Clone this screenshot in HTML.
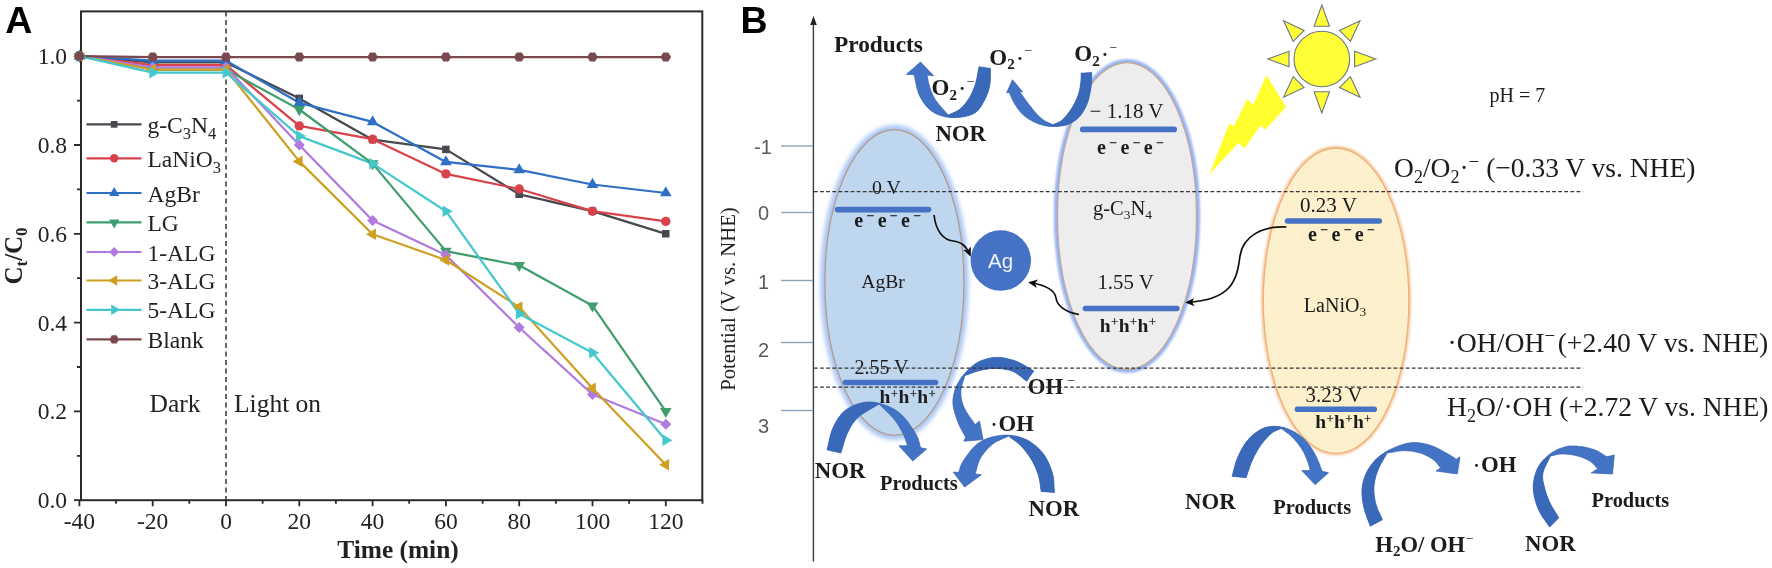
<!DOCTYPE html>
<html><head><meta charset="utf-8"><title>Figure</title>
<style>html,body{margin:0;padding:0;background:#fff}svg{display:block}</style></head>
<body><svg width="1772" height="568" viewBox="0 0 1772 568">
<defs><filter id="gl" x="-20%" y="-20%" width="140%" height="140%"><feGaussianBlur stdDeviation="1.3"/></filter><filter id="gl2" x="-20%" y="-20%" width="140%" height="140%"><feGaussianBlur stdDeviation="1.9"/></filter>
<filter id="soft" x="-2%" y="-2%" width="104%" height="104%"><feGaussianBlur stdDeviation="0.45"/></filter></defs>
<rect width="1772" height="568" fill="#fff"/>
<g filter="url(#soft)">
<g id="panelA">
<rect x="81.0" y="11.4" width="621.3" height="488.8" fill="none" stroke="#2a2a2a" stroke-width="2"/>
<path d="M79.4,500.2 v6 M152.7,500.2 v6 M226.0,500.2 v6 M299.3,500.2 v6 M372.6,500.2 v6 M445.9,500.2 v6 M519.2,500.2 v6 M592.5,500.2 v6 M665.8,500.2 v6 M116.0,500.2 v3.5 M189.3,500.2 v3.5 M262.6,500.2 v3.5 M335.9,500.2 v3.5 M409.2,500.2 v3.5 M482.6,500.2 v3.5 M555.9,500.2 v3.5 M629.1,500.2 v3.5 M702.5,500.2 v3.5 M81.0,500.2 h-7 M81.0,411.4 h-7 M81.0,322.6 h-7 M81.0,233.8 h-7 M81.0,145.0 h-7 M81.0,56.2 h-7 M81.0,455.8 h-4 M81.0,367.0 h-4 M81.0,278.2 h-4 M81.0,189.4 h-4 M81.0,100.6 h-4" stroke="#2a2a2a" stroke-width="1.8" fill="none"/>
<line x1="226.0" y1="11.4" x2="226.0" y2="500.2" stroke="#333" stroke-width="1.5" stroke-dasharray="5,3.5"/>
<g font-family="Liberation Serif, serif" font-size="23.5" fill="#222">
<text x="79.4" y="529" text-anchor="middle">-40</text>
<text x="152.7" y="529" text-anchor="middle">-20</text>
<text x="226.0" y="529" text-anchor="middle">0</text>
<text x="299.3" y="529" text-anchor="middle">20</text>
<text x="372.6" y="529" text-anchor="middle">40</text>
<text x="445.9" y="529" text-anchor="middle">60</text>
<text x="519.2" y="529" text-anchor="middle">80</text>
<text x="592.5" y="529" text-anchor="middle">100</text>
<text x="665.8" y="529" text-anchor="middle">120</text>
<text x="67" y="508.2" text-anchor="end">0.0</text>
<text x="67" y="419.4" text-anchor="end">0.2</text>
<text x="67" y="330.6" text-anchor="end">0.4</text>
<text x="67" y="241.8" text-anchor="end">0.6</text>
<text x="67" y="153.0" text-anchor="end">0.8</text>
<text x="67" y="64.2" text-anchor="end">1.0</text>
</g>
<polyline points="79.4,56.2 152.7,62.4 226.0,62.4 299.3,98.4 372.6,139.7 445.9,149.4 519.2,194.3 592.5,211.2 665.8,233.8" fill="none" stroke="#46494f" stroke-width="2.25" stroke-linejoin="round"/>
<polyline points="79.4,56.2 152.7,65.1 226.0,65.1 299.3,125.9 372.6,139.2 445.9,173.9 519.2,189.0 592.5,211.2 665.8,221.4" fill="none" stroke="#d9434b" stroke-width="2.25" stroke-linejoin="round"/>
<polyline points="79.4,56.2 152.7,60.6 226.0,60.6 299.3,102.8 372.6,121.9 445.9,161.9 519.2,169.9 592.5,184.5 665.8,193.0" fill="none" stroke="#2f6fc4" stroke-width="2.25" stroke-linejoin="round"/>
<polyline points="79.4,56.2 152.7,69.5 226.0,69.5 299.3,109.5 372.6,163.6 445.9,251.1 519.2,265.3 592.5,305.7 665.8,411.4" fill="none" stroke="#3f9e6e" stroke-width="2.25" stroke-linejoin="round"/>
<polyline points="79.4,56.2 152.7,67.3 226.0,67.3 299.3,145.0 372.6,220.5 445.9,255.1 519.2,327.5 592.5,394.5 665.8,424.3" fill="none" stroke="#b07adf" stroke-width="2.25" stroke-linejoin="round"/>
<polyline points="79.4,56.2 152.7,69.5 226.0,69.5 299.3,161.4 372.6,234.2 445.9,260.0 519.2,307.1 592.5,388.3 665.8,464.7" fill="none" stroke="#cf9f22" stroke-width="2.25" stroke-linejoin="round"/>
<polyline points="79.4,56.2 152.7,72.6 226.0,72.6 299.3,136.1 372.6,163.6 445.9,211.2 519.2,313.7 592.5,352.8 665.8,440.3" fill="none" stroke="#45c8cd" stroke-width="2.25" stroke-linejoin="round"/>
<polyline points="79.4,56.2 152.7,57.1 226.0,57.1 299.3,57.1 372.6,57.1 445.9,57.1 519.2,57.1 592.5,57.1 665.8,57.1" fill="none" stroke="#7a4a4e" stroke-width="2.25" stroke-linejoin="round"/>
<rect x="75.6" y="52.4" width="7.5" height="7.5" fill="#46494f"/>
<rect x="148.9" y="58.7" width="7.5" height="7.5" fill="#46494f"/>
<rect x="222.2" y="58.7" width="7.5" height="7.5" fill="#46494f"/>
<rect x="295.5" y="94.6" width="7.5" height="7.5" fill="#46494f"/>
<rect x="368.8" y="135.9" width="7.5" height="7.5" fill="#46494f"/>
<rect x="442.1" y="145.7" width="7.5" height="7.5" fill="#46494f"/>
<rect x="515.4" y="190.5" width="7.5" height="7.5" fill="#46494f"/>
<rect x="588.7" y="207.4" width="7.5" height="7.5" fill="#46494f"/>
<rect x="662.0" y="230.0" width="7.5" height="7.5" fill="#46494f"/>
<circle cx="79.4" cy="56.2" r="4.7" fill="#d9434b"/>
<circle cx="152.7" cy="65.1" r="4.7" fill="#d9434b"/>
<circle cx="226.0" cy="65.1" r="4.7" fill="#d9434b"/>
<circle cx="299.3" cy="125.9" r="4.7" fill="#d9434b"/>
<circle cx="372.6" cy="139.2" r="4.7" fill="#d9434b"/>
<circle cx="445.9" cy="173.9" r="4.7" fill="#d9434b"/>
<circle cx="519.2" cy="189.0" r="4.7" fill="#d9434b"/>
<circle cx="592.5" cy="211.2" r="4.7" fill="#d9434b"/>
<circle cx="665.8" cy="221.4" r="4.7" fill="#d9434b"/>
<polygon points="79.4,49.5 85.2,59.5 73.6,59.5" fill="#2f6fc4"/>
<polygon points="152.7,54.0 158.5,64.0 146.9,64.0" fill="#2f6fc4"/>
<polygon points="226.0,54.0 231.8,64.0 220.2,64.0" fill="#2f6fc4"/>
<polygon points="299.3,96.1 305.1,106.2 293.5,106.2" fill="#2f6fc4"/>
<polygon points="372.6,115.2 378.4,125.2 366.8,125.2" fill="#2f6fc4"/>
<polygon points="445.9,155.2 451.7,165.2 440.1,165.2" fill="#2f6fc4"/>
<polygon points="519.2,163.2 525.0,173.2 513.4,173.2" fill="#2f6fc4"/>
<polygon points="592.5,177.8 598.3,187.9 586.7,187.9" fill="#2f6fc4"/>
<polygon points="665.8,186.3 671.6,196.3 660.0,196.3" fill="#2f6fc4"/>
<polygon points="79.4,62.9 73.6,52.9 85.2,52.9" fill="#3f9e6e"/>
<polygon points="152.7,76.2 146.9,66.2 158.5,66.2" fill="#3f9e6e"/>
<polygon points="226.0,76.2 220.2,66.2 231.8,66.2" fill="#3f9e6e"/>
<polygon points="299.3,116.2 293.5,106.1 305.1,106.1" fill="#3f9e6e"/>
<polygon points="372.6,170.3 366.8,160.3 378.4,160.3" fill="#3f9e6e"/>
<polygon points="445.9,257.8 440.1,247.8 451.7,247.8" fill="#3f9e6e"/>
<polygon points="519.2,272.0 513.4,262.0 525.0,262.0" fill="#3f9e6e"/>
<polygon points="592.5,312.4 586.7,302.4 598.3,302.4" fill="#3f9e6e"/>
<polygon points="665.8,418.1 660.0,408.1 671.6,408.1" fill="#3f9e6e"/>
<polygon points="79.4,50.7 84.9,56.2 79.4,61.7 73.9,56.2" fill="#b07adf"/>
<polygon points="152.7,61.8 158.2,67.3 152.7,72.8 147.2,67.3" fill="#b07adf"/>
<polygon points="226.0,61.8 231.5,67.3 226.0,72.8 220.5,67.3" fill="#b07adf"/>
<polygon points="299.3,139.5 304.8,145.0 299.3,150.5 293.8,145.0" fill="#b07adf"/>
<polygon points="372.6,214.9 378.1,220.5 372.6,226.0 367.1,220.5" fill="#b07adf"/>
<polygon points="445.9,249.6 451.4,255.1 445.9,260.7 440.4,255.1" fill="#b07adf"/>
<polygon points="519.2,321.9 524.7,327.5 519.2,333.0 513.7,327.5" fill="#b07adf"/>
<polygon points="592.5,389.0 598.0,394.5 592.5,400.1 587.0,394.5" fill="#b07adf"/>
<polygon points="665.8,418.7 671.3,424.3 665.8,429.8 660.3,424.3" fill="#b07adf"/>
<polygon points="72.7,56.2 82.7,50.4 82.7,62.0" fill="#cf9f22"/>
<polygon points="146.0,69.5 156.0,63.7 156.0,75.3" fill="#cf9f22"/>
<polygon points="219.3,69.5 229.3,63.7 229.3,75.3" fill="#cf9f22"/>
<polygon points="292.6,161.4 302.6,155.6 302.6,167.2" fill="#cf9f22"/>
<polygon points="365.9,234.2 375.9,228.5 375.9,240.0" fill="#cf9f22"/>
<polygon points="439.2,260.0 449.2,254.2 449.2,265.8" fill="#cf9f22"/>
<polygon points="512.5,307.1 522.5,301.3 522.5,312.8" fill="#cf9f22"/>
<polygon points="585.8,388.3 595.8,382.5 595.8,394.1" fill="#cf9f22"/>
<polygon points="659.1,464.7 669.1,458.9 669.1,470.5" fill="#cf9f22"/>
<polygon points="86.1,56.2 76.1,62.0 76.1,50.4" fill="#45c8cd"/>
<polygon points="159.4,72.6 149.4,78.4 149.4,66.8" fill="#45c8cd"/>
<polygon points="232.7,72.6 222.7,78.4 222.7,66.8" fill="#45c8cd"/>
<polygon points="306.0,136.1 296.0,141.9 296.0,130.3" fill="#45c8cd"/>
<polygon points="379.3,163.6 369.3,169.4 369.3,157.9" fill="#45c8cd"/>
<polygon points="452.6,211.2 442.6,216.9 442.6,205.4" fill="#45c8cd"/>
<polygon points="525.9,313.7 515.9,319.5 515.9,307.9" fill="#45c8cd"/>
<polygon points="599.2,352.8 589.2,358.6 589.2,347.0" fill="#45c8cd"/>
<polygon points="672.5,440.3 662.5,446.0 662.5,434.5" fill="#45c8cd"/>
<polygon points="84.7,56.2 82.0,60.8 76.8,60.8 74.1,56.2 76.8,51.6 82.0,51.6" fill="#7a4a4e"/>
<polygon points="158.0,57.1 155.3,61.6 150.1,61.6 147.4,57.1 150.1,52.5 155.3,52.5" fill="#7a4a4e"/>
<polygon points="231.3,57.1 228.6,61.6 223.4,61.6 220.7,57.1 223.4,52.5 228.6,52.5" fill="#7a4a4e"/>
<polygon points="304.6,57.1 301.9,61.6 296.7,61.6 294.0,57.1 296.7,52.5 301.9,52.5" fill="#7a4a4e"/>
<polygon points="377.9,57.1 375.2,61.6 370.0,61.6 367.3,57.1 370.0,52.5 375.2,52.5" fill="#7a4a4e"/>
<polygon points="451.2,57.1 448.5,61.6 443.3,61.6 440.6,57.1 443.3,52.5 448.5,52.5" fill="#7a4a4e"/>
<polygon points="524.5,57.1 521.8,61.6 516.6,61.6 513.9,57.1 516.6,52.5 521.8,52.5" fill="#7a4a4e"/>
<polygon points="597.8,57.1 595.1,61.6 589.9,61.6 587.2,57.1 589.9,52.5 595.1,52.5" fill="#7a4a4e"/>
<polygon points="671.1,57.1 668.4,61.6 663.2,61.6 660.5,57.1 663.2,52.5 668.4,52.5" fill="#7a4a4e"/>
<g font-family="Liberation Serif, serif" font-size="23.5" fill="#222">
<line x1="86.5" y1="124.4" x2="141.5" y2="124.4" stroke="#46494f" stroke-width="2.2"/>
<rect x="110.8" y="121.0" width="6.7" height="6.7" fill="#46494f"/>
<text x="147.5" y="133.0">g-C<tspan dy="6" font-size="16.5">3</tspan><tspan dy="-6">N</tspan><tspan dy="6" font-size="16.5">4</tspan></text>
<line x1="86.5" y1="158.3" x2="141.5" y2="158.3" stroke="#d9434b" stroke-width="2.2"/>
<circle cx="114.2" cy="158.3" r="4.2" fill="#d9434b"/>
<text x="147.5" y="166.9">LaNiO<tspan dy="6" font-size="16.5">3</tspan></text>
<line x1="86.5" y1="193" x2="141.5" y2="193" stroke="#2f6fc4" stroke-width="2.2"/>
<polygon points="114.2,187.0 119.4,196.0 109.0,196.0" fill="#2f6fc4"/>
<text x="147.5" y="201.6">AgBr</text>
<line x1="86.5" y1="222.4" x2="141.5" y2="222.4" stroke="#3f9e6e" stroke-width="2.2"/>
<polygon points="114.2,228.4 109.0,219.4 119.4,219.4" fill="#3f9e6e"/>
<text x="147.5" y="231.0">LG</text>
<line x1="86.5" y1="252" x2="141.5" y2="252" stroke="#b07adf" stroke-width="2.2"/>
<polygon points="114.2,247.0 119.2,252.0 114.2,257.0 109.2,252.0" fill="#b07adf"/>
<text x="147.5" y="260.6">1-ALG</text>
<line x1="86.5" y1="280.5" x2="141.5" y2="280.5" stroke="#cf9f22" stroke-width="2.2"/>
<polygon points="108.2,280.5 117.2,275.3 117.2,285.7" fill="#cf9f22"/>
<text x="147.5" y="289.1">3-ALG</text>
<line x1="86.5" y1="309.8" x2="141.5" y2="309.8" stroke="#45c8cd" stroke-width="2.2"/>
<polygon points="120.2,309.8 111.2,315.0 111.2,304.6" fill="#45c8cd"/>
<text x="147.5" y="318.4">5-ALG</text>
<line x1="86.5" y1="339.4" x2="141.5" y2="339.4" stroke="#7a4a4e" stroke-width="2.2"/>
<polygon points="118.9,339.4 116.6,343.5 111.8,343.5 109.5,339.4 111.8,335.3 116.6,335.3" fill="#7a4a4e"/>
<text x="147.5" y="348.0">Blank</text>
<text x="149.5" y="411.5" font-size="25.5">Dark</text>
<text x="234" y="411.5" font-size="25.5">Light on</text>
</g>
<text x="398" y="558" text-anchor="middle" font-family="Liberation Serif, serif" font-weight="bold" font-size="25.4" fill="#222">Time (min)</text>
<text transform="translate(22,256) rotate(-90)" text-anchor="middle" font-family="Liberation Serif, serif" font-weight="bold" font-size="25" fill="#222">C<tspan dy="5" font-size="17">t</tspan><tspan dy="-5">/C</tspan><tspan dy="5" font-size="17">0</tspan></text>
<text x="5.3" y="32.7" font-family="Liberation Sans, sans-serif" font-weight="bold" font-size="37.5" fill="#000">A</text>
</g>
<g id="panelB">
<text x="740.6" y="32.7" font-family="Liberation Sans, sans-serif" font-weight="bold" font-size="37.5" fill="#000">B</text>
<ellipse cx="894.4" cy="282.5" rx="71.8" ry="155.10000000000002" fill="#a9c6f4" stroke="#a9c6f4" stroke-width="4.6" filter="url(#gl2)"/>
<ellipse cx="894.4" cy="282.5" rx="69.5" ry="152.8" fill="#bfd7ee" stroke="#b59a8c" stroke-width="1.3"/>
<ellipse cx="1127" cy="216" rx="71.3" ry="155.3" fill="#94b3f4" stroke="#94b3f4" stroke-width="3.6" filter="url(#gl)"/>
<ellipse cx="1127" cy="216" rx="69.5" ry="153.5" fill="#ededed" stroke="#c2a99a" stroke-width="1.3"/>
<ellipse cx="1336.1" cy="300.7" rx="73.89999999999999" ry="153.79999999999998" fill="#f6c89c" stroke="#f6c89c" stroke-width="2.2" filter="url(#gl)"/>
<ellipse cx="1336.1" cy="300.7" rx="72.8" ry="152.7" fill="#fdf0cc" stroke="#efb07a" stroke-width="1.3"/>
<line x1="813.4" y1="22" x2="813.4" y2="561.6" stroke="#3a3a3a" stroke-width="1.4"/>
<polygon points="813.5,16 810.2,25 816.8,25" fill="#222"/>
<line x1="781" y1="146" x2="813" y2="146" stroke="#8aa7bb" stroke-width="1.4"/>
<line x1="781" y1="212.5" x2="813" y2="212.5" stroke="#8aa7bb" stroke-width="1.4"/>
<line x1="781" y1="280.5" x2="813" y2="280.5" stroke="#8aa7bb" stroke-width="1.4"/>
<line x1="781" y1="342.5" x2="813" y2="342.5" stroke="#8aa7bb" stroke-width="1.4"/>
<line x1="781" y1="410.5" x2="813" y2="410.5" stroke="#8aa7bb" stroke-width="1.4"/>
<g font-family="Liberation Sans, sans-serif" font-size="20" fill="#5a5a5a" text-anchor="middle">
<text x="763" y="153.6">-1</text>
<text x="763.5" y="220.4">0</text>
<text x="763.5" y="288.6">1</text>
<text x="763.5" y="356.8">2</text>
<text x="763.5" y="433.1">3</text>
</g>
<text transform="translate(735,299) rotate(-90)" text-anchor="middle" font-family="Liberation Serif, serif" font-size="20.7" fill="#222">Potential (V vs. NHE)</text>
<line x1="837.5" y1="209.6" x2="928.5" y2="209.6" stroke="#4472c4" stroke-width="5.6" stroke-linecap="round"/>
<line x1="845.5" y1="382.5" x2="935.5" y2="382.5" stroke="#4472c4" stroke-width="5.6" stroke-linecap="round"/>
<line x1="1082.7" y1="129.4" x2="1174.2" y2="129.4" stroke="#4472c4" stroke-width="5.6" stroke-linecap="round"/>
<line x1="1085.5" y1="308.5" x2="1176.9" y2="308.5" stroke="#4472c4" stroke-width="5.6" stroke-linecap="round"/>
<line x1="1287.5" y1="221" x2="1379.3" y2="221" stroke="#4472c4" stroke-width="5.6" stroke-linecap="round"/>
<line x1="1297.5" y1="409.2" x2="1374.2" y2="409.2" stroke="#4472c4" stroke-width="5.6" stroke-linecap="round"/>
<text x="886.5" y="193.5" text-anchor="middle" font-family="Liberation Serif, serif" font-size="19.8" fill="#1a1a1a">0 V</text>
<text x="854.2" y="227.3" text-anchor="start" font-family="Liberation Serif, serif" font-size="20" font-weight="bold" fill="#1a1a1a">e<tspan dx="3.3" dy="-7.2" font-size="13" font-weight="normal" stroke="#1a1a1a" stroke-width="0.45">−</tspan><tspan dx="3.9" dy="7.2">e</tspan><tspan dx="3.3" dy="-7.2" font-size="13" font-weight="normal" stroke="#1a1a1a" stroke-width="0.45">−</tspan><tspan dx="3.9" dy="7.2">e</tspan><tspan dx="3.3" dy="-7.2" font-size="13" font-weight="normal" stroke="#1a1a1a" stroke-width="0.45">−</tspan></text>
<text x="883" y="287.5" text-anchor="middle" font-family="Liberation Serif, serif" font-size="19.5" fill="#1a1a1a">AgBr</text>
<text x="881.5" y="374" text-anchor="middle" font-family="Liberation Serif, serif" font-size="20" fill="#1a1a1a">2.55 V</text>
<text x="879.6" y="403.4" text-anchor="start" font-family="Liberation Serif, serif" font-size="19.5" font-weight="bold" fill="#1a1a1a">h<tspan dx="0.6" dy="-5.8" font-size="12" font-weight="normal" stroke="#1a1a1a" stroke-width="0.3">+</tspan><tspan dx="0.6" dy="5.8">h</tspan><tspan dx="0.6" dy="-5.8" font-size="12" font-weight="normal" stroke="#1a1a1a" stroke-width="0.3">+</tspan><tspan dx="0.6" dy="5.8">h</tspan><tspan dx="0.6" dy="-5.8" font-size="12" font-weight="normal" stroke="#1a1a1a" stroke-width="0.3">+</tspan></text>
<text x="1126.5" y="117.5" text-anchor="middle" font-family="Liberation Serif, serif" font-size="21" fill="#1a1a1a">− 1.18 V</text>
<text x="1097" y="154" text-anchor="start" font-family="Liberation Serif, serif" font-size="20" font-weight="bold" fill="#1a1a1a">e<tspan dx="3.3" dy="-7.2" font-size="13" font-weight="normal" stroke="#1a1a1a" stroke-width="0.45">−</tspan><tspan dx="3.9" dy="7.2">e</tspan><tspan dx="3.3" dy="-7.2" font-size="13" font-weight="normal" stroke="#1a1a1a" stroke-width="0.45">−</tspan><tspan dx="3.9" dy="7.2">e</tspan><tspan dx="3.3" dy="-7.2" font-size="13" font-weight="normal" stroke="#1a1a1a" stroke-width="0.45">−</tspan></text>
<text x="1122.5" y="214.5" text-anchor="middle" font-family="Liberation Serif, serif" font-size="20.5" fill="#1a1a1a">g-C<tspan dy="4.5" font-size="13.5">3</tspan><tspan dy="-4.5">N</tspan><tspan dy="4.5" font-size="13.5">4</tspan></text>
<text x="1125.6" y="288.7" text-anchor="middle" font-family="Liberation Serif, serif" font-size="20.8" fill="#1a1a1a">1.55 V</text>
<text x="1099.8" y="332.2" text-anchor="start" font-family="Liberation Serif, serif" font-size="19.5" font-weight="bold" fill="#1a1a1a">h<tspan dx="0.6" dy="-5.8" font-size="12" font-weight="normal" stroke="#1a1a1a" stroke-width="0.3">+</tspan><tspan dx="0.6" dy="5.8">h</tspan><tspan dx="0.6" dy="-5.8" font-size="12" font-weight="normal" stroke="#1a1a1a" stroke-width="0.3">+</tspan><tspan dx="0.6" dy="5.8">h</tspan><tspan dx="0.6" dy="-5.8" font-size="12" font-weight="normal" stroke="#1a1a1a" stroke-width="0.3">+</tspan></text>
<text x="1328.5" y="212" text-anchor="middle" font-family="Liberation Serif, serif" font-size="21" fill="#1a1a1a">0.23 V</text>
<text x="1308" y="240.8" text-anchor="start" font-family="Liberation Serif, serif" font-size="20" font-weight="bold" fill="#1a1a1a">e<tspan dx="3.3" dy="-7.2" font-size="13" font-weight="normal" stroke="#1a1a1a" stroke-width="0.45">−</tspan><tspan dx="3.9" dy="7.2">e</tspan><tspan dx="3.3" dy="-7.2" font-size="13" font-weight="normal" stroke="#1a1a1a" stroke-width="0.45">−</tspan><tspan dx="3.9" dy="7.2">e</tspan><tspan dx="3.3" dy="-7.2" font-size="13" font-weight="normal" stroke="#1a1a1a" stroke-width="0.45">−</tspan></text>
<text x="1335" y="311.5" text-anchor="middle" font-family="Liberation Serif, serif" font-size="20" fill="#1a1a1a">LaNiO<tspan dy="4.5" font-size="13.5">3</tspan></text>
<text x="1334" y="401.5" text-anchor="middle" font-family="Liberation Serif, serif" font-size="21" fill="#1a1a1a">3.23 V</text>
<text x="1315.2" y="428.3" text-anchor="start" font-family="Liberation Serif, serif" font-size="19.5" font-weight="bold" fill="#1a1a1a">h<tspan dx="0.6" dy="-5.8" font-size="12" font-weight="normal" stroke="#1a1a1a" stroke-width="0.3">+</tspan><tspan dx="0.6" dy="5.8">h</tspan><tspan dx="0.6" dy="-5.8" font-size="12" font-weight="normal" stroke="#1a1a1a" stroke-width="0.3">+</tspan><tspan dx="0.6" dy="5.8">h</tspan><tspan dx="0.6" dy="-5.8" font-size="12" font-weight="normal" stroke="#1a1a1a" stroke-width="0.3">+</tspan></text>
<circle cx="1000.8" cy="260.5" r="30.2" fill="#4472c4"/>
<text x="1000.5" y="268" text-anchor="middle" font-family="Liberation Sans, sans-serif" font-size="20.5" fill="#eef2fb">Ag</text>
<defs><marker id="ah" viewBox="0 0 10 10" refX="8" refY="5" markerWidth="5.5" markerHeight="5.5" orient="auto"><path d="M0,0.5 L10,5 L0,9.5 L2.5,5 z" fill="#111"/></marker></defs>
<g fill="none" stroke="#111" stroke-width="1.7" marker-end="url(#ah)">
<path d="M934,215 C936,232 944,240 953,241 C962,242 966,246 970,255"/>
<path d="M1079,314.5 C1064,312 1057,305 1056,298 C1055,290 1045,285 1030,282.5"/>
<path d="M1286.5,227 C1262,226 1243,236 1240,256 C1237,280 1232,300 1187,302.5"/>
</g>
<g fill="#ffff38" stroke="#6f7682" stroke-width="1.1">
<circle cx="1321.8" cy="59" r="27.8"/>
<polygon points="1321.8,5.0 1329.5,26.2 1314.1,26.2"/>
<polygon points="1360.0,20.8 1350.4,41.3 1339.5,30.4"/>
<polygon points="1375.8,59.0 1354.6,66.7 1354.6,51.3"/>
<polygon points="1360.0,97.2 1339.5,87.6 1350.4,76.7"/>
<polygon points="1321.8,113.0 1314.1,91.8 1329.5,91.8"/>
<polygon points="1283.6,97.2 1293.2,76.7 1304.1,87.6"/>
<polygon points="1267.8,59.0 1289.0,51.3 1289.0,66.7"/>
<polygon points="1283.6,20.8 1304.1,30.4 1293.2,41.3"/>
</g>
<polygon fill="#ffff2e" points="1266.4,75.3 1286,106.9 1265.3,129.8 1260.3,125.5 1244.5,148.4 1238.4,142.9 1209.2,174.6 1229.3,123.3 1233.6,126.6 1247.2,99.3 1253.3,104.7"/>
<path d="M990.5,68.5 L990.5,70.2 L990.4,71.8 L990.4,73.5 L990.4,75.2 L990.4,76.8 L990.4,78.5 L990.3,80.1 L990.2,81.8 L990.1,83.4 L989.8,85.0 L989.5,86.6 L989.1,88.2 L988.7,89.7 L988.3,91.3 L987.8,92.8 L987.2,94.3 L986.6,95.8 L986.0,97.3 L985.3,98.8 L984.5,100.2 L983.7,101.6 L982.9,103.1 L982.1,104.6 L981.2,106.1 L980.2,107.5 L979.2,108.9 L978.1,110.2 L976.9,111.4 L975.5,112.5 L974.0,113.4 L972.3,114.2 L970.5,115.0 L968.4,115.6 L966.3,116.2 L964.1,116.7 L961.8,117.1 L959.6,117.3 L957.3,117.5 L955.1,117.6 L953.0,117.6 L950.9,117.5 L948.8,117.3 L946.7,117.0 L944.6,116.6 L942.5,116.1 L940.5,115.5 L938.5,114.8 L936.5,114.0 L934.7,113.1 L933.0,112.1 L931.4,111.0 L929.8,109.7 L928.3,108.3 L926.9,106.8 L925.5,105.2 L924.2,103.5 L923.0,101.7 L921.9,99.9 L920.8,98.1 L919.8,96.2 L918.9,94.3 L918.2,92.2 L917.5,90.1 L916.9,87.9 L916.4,85.7 L915.9,83.4 L915.4,81.1 L915.0,78.9 L914.5,76.6 L913.9,74.4 L906.3,74.4 L920.5,61.9 L933.7,75.8 L927.1,75.1 L927.3,76.3 L927.6,77.5 L927.8,78.6 L928.0,79.8 L928.2,81.0 L928.4,82.1 L928.7,83.3 L929.0,84.5 L929.3,85.8 L929.7,87.0 L930.1,88.3 L930.6,89.5 L931.0,90.8 L931.5,92.1 L932.1,93.4 L932.7,94.7 L933.3,96.1 L934.0,97.4 L934.8,98.8 L935.7,100.2 L936.7,101.6 L937.8,103.1 L939.0,104.5 L940.2,106.0 L941.5,107.5 L942.9,109.1 L944.2,110.6 L945.6,112.1 L946.9,113.6 L948.2,115.1 L948.2,115.1 L949.3,114.6 L950.5,114.0 L951.6,113.5 L952.8,113.1 L953.9,112.6 L955.1,112.0 L956.2,111.5 L957.3,110.8 L958.4,110.2 L959.4,109.4 L960.4,108.6 L961.4,107.7 L962.4,106.7 L963.4,105.7 L964.3,104.7 L965.3,103.6 L966.2,102.5 L967.0,101.3 L967.9,100.1 L968.7,98.9 L969.5,97.6 L970.2,96.3 L971.0,94.9 L971.7,93.5 L972.3,92.0 L973.0,90.5 L973.6,89.0 L974.2,87.5 L974.8,85.9 L975.3,84.3 L975.8,82.7 L976.2,81.0 L976.6,79.3 L977.0,77.5 L977.3,75.7 L977.7,73.9 L978.0,72.1 L978.3,70.3 L978.6,68.6 L979.0,66.8Z" fill="#4373c5" stroke="#3862ac" stroke-width="0.7" stroke-linejoin="round"/>
<path d="M990.5,68.5 L990.5,70.2 L990.4,71.8 L990.4,73.5 L990.4,75.2 L990.4,76.8 L990.4,78.5 L990.3,80.1 L990.2,81.8 L990.1,83.4 L989.8,85.0 L989.5,86.6 L989.1,88.2 L988.7,89.7 L988.3,91.3 L987.8,92.8 L987.2,94.3 L986.6,95.8 L986.0,97.3 L985.3,98.8 L984.5,100.2 L983.7,101.6 L982.9,103.1 L982.1,104.6 L981.2,106.1 L980.2,107.5 L979.2,108.9 L978.1,110.2 L976.9,111.4 L975.5,112.5 L974.0,113.4 L972.3,114.2 L970.5,115.0 L968.4,115.6 L966.3,116.2 L964.1,116.7 L961.8,117.1 L959.6,117.3 L957.3,117.5 L955.1,117.6 L953.0,117.6 L950.9,117.5 L948.8,117.3 L946.7,117.0 L944.6,116.6 L942.5,116.1 L948.2,115.1 L949.3,114.6 L950.5,114.0 L951.6,113.5 L952.8,113.1 L953.9,112.6 L955.1,112.0 L956.2,111.5 L957.3,110.8 L958.4,110.2 L959.4,109.4 L960.4,108.6 L961.4,107.7 L962.4,106.7 L963.4,105.7 L964.3,104.7 L965.3,103.6 L966.2,102.5 L967.0,101.3 L967.9,100.1 L968.7,98.9 L969.5,97.6 L970.2,96.3 L971.0,94.9 L971.7,93.5 L972.3,92.0 L973.0,90.5 L973.6,89.0 L974.2,87.5 L974.8,85.9 L975.3,84.3 L975.8,82.7 L976.2,81.0 L976.6,79.3 L977.0,77.5 L977.3,75.7 L977.7,73.9 L978.0,72.1 L978.3,70.3 L978.6,68.6 L979.0,66.8Z" fill="#3a69b9"/>
<path d="M1091.8,72.5 L1091.7,73.9 L1091.7,75.2 L1091.7,76.6 L1091.7,77.9 L1091.6,79.2 L1091.6,80.6 L1091.5,82.0 L1091.4,83.4 L1091.3,84.9 L1091.1,86.4 L1090.9,88.0 L1090.6,89.7 L1090.3,91.4 L1090.0,93.2 L1089.6,95.0 L1089.2,96.8 L1088.8,98.6 L1088.3,100.4 L1087.8,102.0 L1087.2,103.6 L1086.6,105.1 L1085.9,106.6 L1085.2,108.0 L1084.5,109.5 L1083.7,110.8 L1082.8,112.1 L1082.0,113.4 L1081.1,114.6 L1080.2,115.7 L1079.3,116.8 L1078.4,117.8 L1077.4,118.7 L1076.4,119.6 L1075.3,120.4 L1074.2,121.1 L1073.2,121.8 L1072.1,122.5 L1070.9,123.1 L1069.8,123.6 L1068.7,124.1 L1067.6,124.5 L1066.4,124.9 L1065.2,125.3 L1064.0,125.5 L1062.8,125.8 L1061.6,125.9 L1060.4,126.1 L1059.2,126.2 L1058.0,126.3 L1056.8,126.4 L1055.6,126.5 L1054.4,126.5 L1053.2,126.5 L1052.0,126.5 L1050.8,126.5 L1049.7,126.4 L1048.5,126.3 L1047.3,126.1 L1046.1,125.9 L1044.9,125.7 L1043.7,125.4 L1042.5,125.1 L1041.3,124.8 L1040.1,124.4 L1038.9,124.0 L1037.7,123.5 L1036.5,123.0 L1035.3,122.5 L1034.1,122.0 L1033.0,121.4 L1031.9,120.8 L1030.8,120.2 L1029.7,119.6 L1028.6,118.9 L1027.5,118.2 L1026.5,117.5 L1025.4,116.7 L1024.4,115.9 L1023.4,115.1 L1022.5,114.2 L1021.6,113.3 L1020.7,112.3 L1019.8,111.3 L1019.0,110.2 L1018.2,109.2 L1017.4,108.0 L1016.6,106.9 L1015.9,105.8 L1015.2,104.7 L1014.5,103.6 L1013.9,102.5 L1013.3,101.4 L1012.7,100.3 L1012.2,99.2 L1011.7,98.0 L1011.2,96.9 L1010.7,95.8 L1010.2,94.6 L1009.7,93.5 L1009.2,92.4 L1006.6,92.8 L1012.5,79.8 L1022.5,91.7 L1019.8,91.7 L1020.4,92.6 L1021.1,93.5 L1021.7,94.4 L1022.3,95.3 L1022.9,96.2 L1023.6,97.1 L1024.2,98.0 L1024.9,99.0 L1025.6,100.0 L1026.4,101.0 L1027.2,102.1 L1028.1,103.3 L1029.0,104.5 L1030.0,105.8 L1031.0,107.0 L1032.0,108.3 L1032.9,109.5 L1033.9,110.7 L1034.8,111.8 L1035.7,112.8 L1036.5,113.7 L1037.3,114.6 L1038.1,115.4 L1038.9,116.2 L1039.7,116.9 L1040.4,117.6 L1041.2,118.3 L1042.0,118.9 L1042.8,119.5 L1043.6,120.1 L1044.5,120.7 L1045.4,121.2 L1046.3,121.7 L1047.2,122.1 L1048.1,122.6 L1049.1,123.0 L1050.0,123.4 L1050.9,123.8 L1051.9,124.3 L1052.8,124.7 L1052.8,124.7 L1053.7,124.3 L1054.7,123.9 L1055.6,123.5 L1056.5,123.2 L1057.5,122.8 L1058.4,122.4 L1059.3,122.0 L1060.2,121.4 L1061.2,120.8 L1062.1,120.1 L1063.0,119.3 L1064.0,118.3 L1064.9,117.3 L1065.9,116.2 L1066.9,115.0 L1067.8,113.8 L1068.7,112.6 L1069.6,111.4 L1070.5,110.1 L1071.3,108.9 L1072.1,107.7 L1072.8,106.4 L1073.6,105.0 L1074.3,103.7 L1075.0,102.3 L1075.7,101.0 L1076.3,99.6 L1076.9,98.3 L1077.4,97.0 L1077.9,95.7 L1078.3,94.5 L1078.7,93.2 L1079.1,92.0 L1079.4,90.8 L1079.6,89.6 L1079.9,88.4 L1080.1,87.2 L1080.3,86.1 L1080.4,84.9 L1080.6,83.8 L1080.7,82.7 L1080.9,81.6 L1080.9,80.5 L1081.0,79.5 L1081.0,78.4 L1081.1,77.4 L1081.1,76.3 L1081.1,75.3 L1081.1,74.3 L1081.2,73.2Z" fill="#4373c5" stroke="#3862ac" stroke-width="0.7" stroke-linejoin="round"/>
<path d="M1091.8,72.5 L1091.7,73.9 L1091.7,75.2 L1091.7,76.6 L1091.7,77.9 L1091.6,79.2 L1091.6,80.6 L1091.5,82.0 L1091.4,83.4 L1091.3,84.9 L1091.1,86.4 L1090.9,88.0 L1090.6,89.7 L1090.3,91.4 L1090.0,93.2 L1089.6,95.0 L1089.2,96.8 L1088.8,98.6 L1088.3,100.4 L1087.8,102.0 L1087.2,103.6 L1086.6,105.1 L1085.9,106.6 L1085.2,108.0 L1084.5,109.5 L1083.7,110.8 L1082.8,112.1 L1082.0,113.4 L1081.1,114.6 L1080.2,115.7 L1079.3,116.8 L1078.4,117.8 L1077.4,118.7 L1076.4,119.6 L1075.3,120.4 L1074.2,121.1 L1073.2,121.8 L1072.1,122.5 L1070.9,123.1 L1069.8,123.6 L1068.7,124.1 L1067.6,124.5 L1066.4,124.9 L1065.2,125.3 L1064.0,125.5 L1062.8,125.8 L1061.6,125.9 L1060.4,126.1 L1059.2,126.2 L1058.0,126.3 L1056.8,126.4 L1055.6,126.5 L1054.4,126.5 L1053.2,126.5 L1052.0,126.5 L1050.8,126.5 L1049.7,126.4 L1052.8,124.7 L1053.7,124.3 L1054.7,123.9 L1055.6,123.5 L1056.5,123.2 L1057.5,122.8 L1058.4,122.4 L1059.3,122.0 L1060.2,121.4 L1061.2,120.8 L1062.1,120.1 L1063.0,119.3 L1064.0,118.3 L1064.9,117.3 L1065.9,116.2 L1066.9,115.0 L1067.8,113.8 L1068.7,112.6 L1069.6,111.4 L1070.5,110.1 L1071.3,108.9 L1072.1,107.7 L1072.8,106.4 L1073.6,105.0 L1074.3,103.7 L1075.0,102.3 L1075.7,101.0 L1076.3,99.6 L1076.9,98.3 L1077.4,97.0 L1077.9,95.7 L1078.3,94.5 L1078.7,93.2 L1079.1,92.0 L1079.4,90.8 L1079.6,89.6 L1079.9,88.4 L1080.1,87.2 L1080.3,86.1 L1080.4,84.9 L1080.6,83.8 L1080.7,82.7 L1080.9,81.6 L1080.9,80.5 L1081.0,79.5 L1081.0,78.4 L1081.1,77.4 L1081.1,76.3 L1081.1,75.3 L1081.1,74.3 L1081.2,73.2Z" fill="#3a69b9"/>
<path d="M827.0,449.8 L827.6,447.6 L828.1,445.4 L828.6,443.1 L829.1,440.9 L829.6,438.6 L830.1,436.4 L830.7,434.2 L831.3,432.1 L832.1,430.0 L832.9,428.0 L833.8,426.1 L834.8,424.1 L835.8,422.2 L836.8,420.4 L838.0,418.6 L839.2,416.8 L840.5,415.2 L841.8,413.6 L843.3,412.1 L844.8,410.8 L846.5,409.5 L848.3,408.4 L850.2,407.3 L852.2,406.2 L854.2,405.3 L856.3,404.5 L858.4,403.8 L860.5,403.2 L862.6,402.7 L864.6,402.3 L866.6,402.1 L868.6,402.0 L870.6,402.0 L872.6,402.2 L874.7,402.4 L876.7,402.8 L878.7,403.2 L880.6,403.7 L882.5,404.3 L884.4,404.9 L886.2,405.5 L888.0,406.3 L889.8,407.0 L891.6,407.9 L893.3,408.8 L895.0,409.8 L896.7,410.9 L898.4,412.1 L900.0,413.4 L901.6,414.8 L903.2,416.4 L904.8,418.2 L906.5,420.2 L908.1,422.3 L909.6,424.5 L911.1,426.7 L912.6,428.8 L913.9,430.9 L915.1,432.8 L916.1,434.6 L917.0,436.2 L917.7,437.7 L918.2,439.0 L918.7,440.4 L919.0,441.6 L919.3,442.8 L919.6,444.0 L919.9,445.3 L920.3,446.5 L920.7,447.8 L926.7,448.9 L912.8,461.0 L898.9,445.8 L907.5,445.8 L907.1,444.6 L906.7,443.3 L906.3,442.1 L905.9,440.9 L905.5,439.7 L905.1,438.4 L904.6,437.2 L904.1,435.9 L903.5,434.6 L902.9,433.3 L902.2,431.9 L901.4,430.5 L900.6,429.1 L899.8,427.7 L898.9,426.2 L898.0,424.7 L897.0,423.2 L896.0,421.8 L894.9,420.3 L893.7,418.8 L892.5,417.3 L891.1,415.9 L889.7,414.4 L888.2,412.9 L886.7,411.4 L885.2,409.9 L883.7,408.4 L882.1,407.0 L880.6,405.5 L879.1,404.0 L879.1,404.0 L876.9,405.3 L874.7,406.6 L872.4,407.9 L870.2,409.2 L867.9,410.5 L865.7,411.9 L863.6,413.2 L861.5,414.6 L859.7,416.0 L858.0,417.4 L856.5,418.9 L855.1,420.4 L853.9,421.9 L852.8,423.4 L851.8,425.0 L850.8,426.5 L850.0,428.2 L849.1,429.8 L848.3,431.5 L847.4,433.3 L846.6,435.1 L845.8,437.0 L845.1,439.0 L844.5,440.9 L843.8,443.0 L843.2,445.0 L842.7,447.0 L842.1,449.1 L841.4,451.1 L840.8,453.1Z" fill="#4373c5" stroke="#3862ac" stroke-width="0.7" stroke-linejoin="round"/>
<path d="M827.0,449.8 L827.6,447.6 L828.1,445.4 L828.6,443.1 L829.1,440.9 L829.6,438.6 L830.1,436.4 L830.7,434.2 L831.3,432.1 L832.1,430.0 L832.9,428.0 L833.8,426.1 L834.8,424.1 L835.8,422.2 L836.8,420.4 L838.0,418.6 L839.2,416.8 L840.5,415.2 L841.8,413.6 L843.3,412.1 L844.8,410.8 L846.5,409.5 L848.3,408.4 L850.2,407.3 L852.2,406.2 L854.2,405.3 L856.3,404.5 L858.4,403.8 L860.5,403.2 L862.6,402.7 L864.6,402.3 L866.6,402.1 L868.6,402.0 L870.6,402.0 L872.6,402.2 L874.7,402.4 L876.7,402.8 L878.7,403.2 L880.6,403.7 L882.5,404.3 L884.4,404.9 L879.1,404.0 L876.9,405.3 L874.7,406.6 L872.4,407.9 L870.2,409.2 L867.9,410.5 L865.7,411.9 L863.6,413.2 L861.5,414.6 L859.7,416.0 L858.0,417.4 L856.5,418.9 L855.1,420.4 L853.9,421.9 L852.8,423.4 L851.8,425.0 L850.8,426.5 L850.0,428.2 L849.1,429.8 L848.3,431.5 L847.4,433.3 L846.6,435.1 L845.8,437.0 L845.1,439.0 L844.5,440.9 L843.8,443.0 L843.2,445.0 L842.7,447.0 L842.1,449.1 L841.4,451.1 L840.8,453.1Z" fill="#3a69b9"/>
<path d="M1033.8,370.9 L1032.1,369.9 L1030.3,368.9 L1028.6,367.8 L1026.9,366.8 L1025.1,365.7 L1023.4,364.7 L1021.7,363.8 L1019.9,362.9 L1018.1,362.0 L1016.3,361.3 L1014.5,360.6 L1012.6,360.0 L1010.7,359.5 L1008.7,359.0 L1006.8,358.5 L1004.9,358.1 L1002.9,357.8 L1001.0,357.6 L999.1,357.4 L997.3,357.4 L995.5,357.4 L993.6,357.6 L991.8,357.8 L990.0,358.1 L988.2,358.5 L986.4,359.0 L984.7,359.5 L983.1,360.0 L981.4,360.6 L979.9,361.3 L978.4,362.0 L977.0,362.8 L975.7,363.6 L974.4,364.5 L973.1,365.5 L971.9,366.5 L970.7,367.5 L969.5,368.6 L968.4,369.7 L967.2,370.9 L966.0,372.1 L964.9,373.4 L963.7,374.7 L962.6,376.1 L961.5,377.5 L960.5,379.0 L959.5,380.5 L958.5,382.0 L957.7,383.5 L956.9,385.1 L956.2,386.7 L955.6,388.3 L955.0,390.0 L954.4,391.7 L954.0,393.5 L953.6,395.3 L953.3,397.1 L953.0,398.9 L952.9,400.7 L952.9,402.5 L953.0,404.4 L953.2,406.3 L953.6,408.2 L954.0,410.2 L954.6,412.2 L955.1,414.1 L955.8,416.1 L956.4,418.0 L957.1,419.8 L957.7,421.6 L958.4,423.3 L959.1,425.0 L959.8,426.6 L960.6,428.2 L961.5,429.7 L962.3,431.2 L963.1,432.8 L964.0,434.3 L964.8,435.8 L965.6,437.4 L963.9,441.2 L983.1,439.6 L979.5,421.0 L975.1,424.7 L974.0,423.0 L972.8,421.2 L971.5,419.4 L970.3,417.7 L969.0,415.9 L967.9,414.1 L966.7,412.4 L965.7,410.7 L964.8,409.0 L964.0,407.3 L963.3,405.7 L962.8,404.0 L962.3,402.4 L961.8,400.9 L961.5,399.3 L961.3,397.8 L961.1,396.2 L960.9,394.6 L960.9,393.1 L960.9,391.5 L961.0,389.9 L961.2,388.3 L961.6,386.7 L962.0,385.1 L962.4,383.6 L962.9,382.0 L963.4,380.4 L963.9,378.8 L964.4,377.2 L964.8,375.6 L964.8,375.6 L966.5,375.0 L968.2,374.4 L969.8,373.8 L971.5,373.2 L973.2,372.6 L974.9,372.0 L976.6,371.5 L978.2,371.0 L979.9,370.5 L981.5,370.1 L983.1,369.8 L984.7,369.5 L986.3,369.2 L987.9,369.0 L989.5,368.8 L991.0,368.6 L992.6,368.5 L994.1,368.5 L995.7,368.5 L997.3,368.5 L998.9,368.6 L1000.5,368.7 L1002.1,368.9 L1003.8,369.1 L1005.4,369.4 L1007.0,369.7 L1008.6,370.0 L1010.2,370.5 L1011.7,371.0 L1013.2,371.6 L1014.6,372.3 L1016.0,373.1 L1017.4,374.0 L1018.7,375.0 L1020.1,376.0 L1021.4,377.0 L1022.7,378.1 L1024.0,379.2 L1025.3,380.2 L1026.6,381.2Z" fill="#4373c5" stroke="#3862ac" stroke-width="0.7" stroke-linejoin="round"/>
<path d="M1033.8,370.9 L1032.1,369.9 L1030.3,368.9 L1028.6,367.8 L1026.9,366.8 L1025.1,365.7 L1023.4,364.7 L1021.7,363.8 L1019.9,362.9 L1018.1,362.0 L1016.3,361.3 L1014.5,360.6 L1012.6,360.0 L1010.7,359.5 L1008.7,359.0 L1006.8,358.5 L1004.9,358.1 L1002.9,357.8 L1001.0,357.6 L999.1,357.4 L997.3,357.4 L995.5,357.4 L993.6,357.6 L991.8,357.8 L990.0,358.1 L988.2,358.5 L986.4,359.0 L984.7,359.5 L983.1,360.0 L981.4,360.6 L979.9,361.3 L978.4,362.0 L977.0,362.8 L975.7,363.6 L974.4,364.5 L973.1,365.5 L971.9,366.5 L970.7,367.5 L969.5,368.6 L968.4,369.7 L967.2,370.9 L966.0,372.1 L964.9,373.4 L963.7,374.7 L962.6,376.1 L961.5,377.5 L960.5,379.0 L964.8,375.6 L966.5,375.0 L968.2,374.4 L969.8,373.8 L971.5,373.2 L973.2,372.6 L974.9,372.0 L976.6,371.5 L978.2,371.0 L979.9,370.5 L981.5,370.1 L983.1,369.8 L984.7,369.5 L986.3,369.2 L987.9,369.0 L989.5,368.8 L991.0,368.6 L992.6,368.5 L994.1,368.5 L995.7,368.5 L997.3,368.5 L998.9,368.6 L1000.5,368.7 L1002.1,368.9 L1003.8,369.1 L1005.4,369.4 L1007.0,369.7 L1008.6,370.0 L1010.2,370.5 L1011.7,371.0 L1013.2,371.6 L1014.6,372.3 L1016.0,373.1 L1017.4,374.0 L1018.7,375.0 L1020.1,376.0 L1021.4,377.0 L1022.7,378.1 L1024.0,379.2 L1025.3,380.2 L1026.6,381.2Z" fill="#3a69b9"/>
<path d="M1054.4,492.4 L1054.3,490.6 L1054.2,488.7 L1054.1,486.9 L1054.0,485.0 L1053.9,483.2 L1053.8,481.4 L1053.7,479.5 L1053.4,477.7 L1053.1,475.8 L1052.6,473.9 L1052.0,472.0 L1051.4,470.0 L1050.7,468.0 L1049.9,465.9 L1049.1,463.9 L1048.2,461.9 L1047.2,460.0 L1046.1,458.0 L1045.0,456.2 L1043.8,454.5 L1042.5,452.8 L1041.1,451.2 L1039.7,449.6 L1038.2,448.1 L1036.6,446.6 L1034.9,445.2 L1033.2,443.9 L1031.5,442.7 L1029.8,441.5 L1028.0,440.5 L1026.2,439.6 L1024.3,438.8 L1022.4,438.0 L1020.5,437.4 L1018.5,436.8 L1016.5,436.3 L1014.5,435.9 L1012.5,435.6 L1010.6,435.4 L1008.6,435.2 L1006.6,435.1 L1004.7,435.1 L1002.6,435.2 L1000.6,435.4 L998.6,435.7 L996.6,436.0 L994.7,436.4 L992.8,436.8 L991.0,437.3 L989.3,437.8 L987.7,438.3 L986.1,438.9 L984.6,439.6 L983.2,440.2 L981.8,441.0 L980.5,441.8 L979.1,442.7 L977.8,443.6 L976.5,444.7 L975.2,445.8 L973.9,447.1 L972.5,448.5 L971.1,450.1 L969.8,451.8 L968.4,453.5 L967.2,455.3 L966.0,457.0 L964.8,458.6 L963.8,460.2 L962.9,461.6 L962.1,462.9 L961.5,464.1 L961.0,465.2 L960.6,466.3 L960.2,467.4 L959.9,468.4 L959.6,469.4 L959.3,470.4 L958.9,471.4 L958.5,472.5 L953.2,472.1 L964.6,487.1 L981.4,474.8 L975.2,473.9 L975.7,472.3 L976.1,470.7 L976.6,469.1 L977.0,467.5 L977.4,465.9 L977.9,464.3 L978.4,462.7 L979.0,461.2 L979.7,459.6 L980.5,458.1 L981.4,456.6 L982.5,455.1 L983.6,453.5 L984.7,452.0 L986.0,450.6 L987.3,449.1 L988.6,447.7 L990.0,446.4 L991.4,445.2 L992.8,444.0 L994.2,443.0 L995.7,442.0 L997.3,441.2 L998.9,440.4 L1000.5,439.7 L1002.1,439.0 L1003.7,438.3 L1005.4,437.6 L1007.0,436.9 L1008.6,436.1 L1008.6,436.1 L1009.8,437.1 L1011.1,438.0 L1012.3,438.9 L1013.6,439.8 L1014.9,440.7 L1016.1,441.6 L1017.3,442.6 L1018.5,443.6 L1019.7,444.7 L1020.9,445.8 L1022.0,447.0 L1023.2,448.3 L1024.3,449.6 L1025.4,451.0 L1026.5,452.4 L1027.6,453.9 L1028.6,455.3 L1029.6,456.8 L1030.6,458.3 L1031.5,459.8 L1032.4,461.3 L1033.2,462.9 L1034.0,464.4 L1034.8,466.0 L1035.5,467.6 L1036.2,469.3 L1036.8,470.9 L1037.4,472.5 L1038.0,474.1 L1038.5,475.7 L1038.9,477.3 L1039.3,478.9 L1039.6,480.4 L1039.9,482.0 L1040.1,483.6 L1040.3,485.2 L1040.5,486.8 L1040.7,488.3 L1040.9,489.9 L1041.2,491.5Z" fill="#4373c5" stroke="#3862ac" stroke-width="0.7" stroke-linejoin="round"/>
<path d="M1054.4,492.4 L1054.3,490.6 L1054.2,488.7 L1054.1,486.9 L1054.0,485.0 L1053.9,483.2 L1053.8,481.4 L1053.7,479.5 L1053.4,477.7 L1053.1,475.8 L1052.6,473.9 L1052.0,472.0 L1051.4,470.0 L1050.7,468.0 L1049.9,465.9 L1049.1,463.9 L1048.2,461.9 L1047.2,460.0 L1046.1,458.0 L1045.0,456.2 L1043.8,454.5 L1042.5,452.8 L1041.1,451.2 L1039.7,449.6 L1038.2,448.1 L1036.6,446.6 L1034.9,445.2 L1033.2,443.9 L1031.5,442.7 L1029.8,441.5 L1028.0,440.5 L1026.2,439.6 L1024.3,438.8 L1022.4,438.0 L1020.5,437.4 L1018.5,436.8 L1016.5,436.3 L1014.5,435.9 L1012.5,435.6 L1010.6,435.4 L1008.6,435.2 L1006.6,435.1 L1004.7,435.1 L1002.6,435.2 L1008.6,436.1 L1009.8,437.1 L1011.1,438.0 L1012.3,438.9 L1013.6,439.8 L1014.9,440.7 L1016.1,441.6 L1017.3,442.6 L1018.5,443.6 L1019.7,444.7 L1020.9,445.8 L1022.0,447.0 L1023.2,448.3 L1024.3,449.6 L1025.4,451.0 L1026.5,452.4 L1027.6,453.9 L1028.6,455.3 L1029.6,456.8 L1030.6,458.3 L1031.5,459.8 L1032.4,461.3 L1033.2,462.9 L1034.0,464.4 L1034.8,466.0 L1035.5,467.6 L1036.2,469.3 L1036.8,470.9 L1037.4,472.5 L1038.0,474.1 L1038.5,475.7 L1038.9,477.3 L1039.3,478.9 L1039.6,480.4 L1039.9,482.0 L1040.1,483.6 L1040.3,485.2 L1040.5,486.8 L1040.7,488.3 L1040.9,489.9 L1041.2,491.5Z" fill="#3a69b9"/>
<path d="M1232.0,476.3 L1232.6,474.4 L1233.1,472.5 L1233.6,470.5 L1234.1,468.6 L1234.6,466.7 L1235.1,464.7 L1235.7,462.8 L1236.3,461.0 L1237.0,459.1 L1237.7,457.3 L1238.5,455.5 L1239.4,453.7 L1240.2,451.9 L1241.2,450.1 L1242.2,448.3 L1243.2,446.6 L1244.2,444.9 L1245.3,443.3 L1246.4,441.8 L1247.5,440.4 L1248.7,439.1 L1249.9,437.8 L1251.1,436.5 L1252.4,435.4 L1253.7,434.3 L1255.0,433.2 L1256.3,432.3 L1257.6,431.4 L1258.9,430.5 L1260.2,429.8 L1261.5,429.1 L1262.7,428.5 L1263.9,428.0 L1265.1,427.6 L1266.4,427.2 L1267.6,426.9 L1268.9,426.7 L1270.2,426.5 L1271.5,426.4 L1272.9,426.3 L1274.3,426.3 L1275.8,426.3 L1277.3,426.5 L1278.9,426.6 L1280.5,426.9 L1282.1,427.2 L1283.7,427.5 L1285.3,428.0 L1286.8,428.5 L1288.4,429.1 L1290.0,429.8 L1291.6,430.5 L1293.2,431.3 L1294.8,432.2 L1296.4,433.2 L1298.0,434.2 L1299.6,435.3 L1301.1,436.5 L1302.5,437.7 L1303.9,438.9 L1305.2,440.2 L1306.5,441.6 L1307.7,443.1 L1308.9,444.6 L1310.0,446.2 L1311.1,447.8 L1312.2,449.5 L1313.2,451.1 L1314.2,452.8 L1315.1,454.4 L1316.0,456.0 L1316.8,457.7 L1317.5,459.4 L1318.2,461.1 L1318.9,462.8 L1319.6,464.5 L1320.2,466.2 L1320.8,467.9 L1321.5,469.6 L1322.2,471.3 L1328.5,472.7 L1315.1,484.7 L1301.8,470.6 L1310.2,470.6 L1310.0,469.9 L1309.8,469.1 L1309.7,468.4 L1309.5,467.8 L1309.4,467.1 L1309.2,466.3 L1309.0,465.6 L1308.7,464.8 L1308.5,463.9 L1308.1,462.9 L1307.7,461.8 L1307.3,460.7 L1306.8,459.5 L1306.3,458.2 L1305.8,456.9 L1305.2,455.5 L1304.6,454.2 L1304.0,452.8 L1303.2,451.5 L1302.5,450.2 L1301.7,448.9 L1300.8,447.6 L1299.9,446.3 L1298.9,444.9 L1297.9,443.6 L1296.9,442.3 L1295.8,441.0 L1294.7,439.8 L1293.7,438.6 L1292.6,437.5 L1291.5,436.4 L1290.4,435.4 L1289.3,434.5 L1288.2,433.6 L1287.0,432.7 L1285.9,431.9 L1284.7,431.0 L1283.6,430.2 L1282.4,429.3 L1281.3,428.4 L1281.3,428.4 L1280.3,428.9 L1279.4,429.3 L1278.4,429.6 L1277.5,430.0 L1276.5,430.4 L1275.5,430.8 L1274.6,431.3 L1273.6,431.8 L1272.5,432.5 L1271.5,433.3 L1270.4,434.2 L1269.3,435.3 L1268.1,436.4 L1266.9,437.7 L1265.8,439.0 L1264.6,440.3 L1263.4,441.7 L1262.3,443.2 L1261.2,444.6 L1260.2,446.0 L1259.2,447.4 L1258.3,448.9 L1257.4,450.4 L1256.5,452.0 L1255.7,453.5 L1254.8,455.1 L1254.0,456.7 L1253.3,458.3 L1252.5,459.9 L1251.8,461.5 L1251.1,463.1 L1250.5,464.7 L1249.9,466.3 L1249.3,467.9 L1248.8,469.6 L1248.3,471.2 L1247.7,472.8 L1247.2,474.4 L1246.7,476.1 L1246.1,477.7Z" fill="#4373c5" stroke="#3862ac" stroke-width="0.7" stroke-linejoin="round"/>
<path d="M1232.0,476.3 L1232.6,474.4 L1233.1,472.5 L1233.6,470.5 L1234.1,468.6 L1234.6,466.7 L1235.1,464.7 L1235.7,462.8 L1236.3,461.0 L1237.0,459.1 L1237.7,457.3 L1238.5,455.5 L1239.4,453.7 L1240.2,451.9 L1241.2,450.1 L1242.2,448.3 L1243.2,446.6 L1244.2,444.9 L1245.3,443.3 L1246.4,441.8 L1247.5,440.4 L1248.7,439.1 L1249.9,437.8 L1251.1,436.5 L1252.4,435.4 L1253.7,434.3 L1255.0,433.2 L1256.3,432.3 L1257.6,431.4 L1258.9,430.5 L1260.2,429.8 L1261.5,429.1 L1262.7,428.5 L1263.9,428.0 L1265.1,427.6 L1266.4,427.2 L1267.6,426.9 L1268.9,426.7 L1270.2,426.5 L1271.5,426.4 L1272.9,426.3 L1274.3,426.3 L1275.8,426.3 L1277.3,426.5 L1278.9,426.6 L1280.5,426.9 L1282.1,427.2 L1283.7,427.5 L1285.3,428.0 L1286.8,428.5 L1281.3,428.4 L1280.3,428.9 L1279.4,429.3 L1278.4,429.6 L1277.5,430.0 L1276.5,430.4 L1275.5,430.8 L1274.6,431.3 L1273.6,431.8 L1272.5,432.5 L1271.5,433.3 L1270.4,434.2 L1269.3,435.3 L1268.1,436.4 L1266.9,437.7 L1265.8,439.0 L1264.6,440.3 L1263.4,441.7 L1262.3,443.2 L1261.2,444.6 L1260.2,446.0 L1259.2,447.4 L1258.3,448.9 L1257.4,450.4 L1256.5,452.0 L1255.7,453.5 L1254.8,455.1 L1254.0,456.7 L1253.3,458.3 L1252.5,459.9 L1251.8,461.5 L1251.1,463.1 L1250.5,464.7 L1249.9,466.3 L1249.3,467.9 L1248.8,469.6 L1248.3,471.2 L1247.7,472.8 L1247.2,474.4 L1246.7,476.1 L1246.1,477.7Z" fill="#3a69b9"/>
<path d="M1370.3,526.2 L1369.6,524.4 L1368.9,522.5 L1368.2,520.7 L1367.5,518.8 L1366.8,517.0 L1366.1,515.1 L1365.5,513.2 L1364.9,511.4 L1364.4,509.6 L1363.9,507.7 L1363.5,505.8 L1363.1,504.0 L1362.8,502.1 L1362.5,500.2 L1362.3,498.3 L1362.1,496.5 L1362.0,494.6 L1361.9,492.8 L1361.9,491.0 L1362.0,489.2 L1362.2,487.4 L1362.4,485.7 L1362.7,484.0 L1363.1,482.3 L1363.5,480.6 L1364.0,479.0 L1364.5,477.3 L1365.2,475.7 L1365.8,474.1 L1366.6,472.5 L1367.4,470.9 L1368.3,469.3 L1369.3,467.8 L1370.3,466.2 L1371.4,464.7 L1372.5,463.2 L1373.8,461.7 L1375.0,460.3 L1376.3,459.0 L1377.7,457.7 L1379.1,456.5 L1380.7,455.3 L1382.2,454.2 L1383.9,453.1 L1385.6,452.0 L1387.3,451.0 L1389.1,450.1 L1390.9,449.2 L1392.6,448.4 L1394.4,447.6 L1396.2,446.9 L1398.0,446.1 L1399.8,445.5 L1401.7,444.8 L1403.5,444.3 L1405.4,443.8 L1407.3,443.3 L1409.2,443.0 L1411.0,442.7 L1412.9,442.6 L1414.8,442.6 L1416.6,442.6 L1418.5,442.8 L1420.4,443.0 L1422.3,443.3 L1424.1,443.7 L1426.0,444.1 L1427.8,444.6 L1429.6,445.1 L1431.4,445.7 L1433.2,446.3 L1435.0,447.1 L1436.8,447.9 L1438.6,448.8 L1440.3,449.7 L1442.0,450.7 L1443.7,451.6 L1445.2,452.5 L1446.7,453.3 L1448.0,454.0 L1449.2,454.6 L1450.2,455.2 L1451.1,455.8 L1451.9,456.3 L1452.7,456.8 L1453.4,457.3 L1454.1,457.7 L1454.8,458.2 L1455.5,458.7 L1456.3,459.2 L1460.0,456.8 L1457.3,474.0 L1436.0,471.0 L1440.6,467.9 L1439.9,467.1 L1439.2,466.2 L1438.6,465.4 L1437.9,464.5 L1437.2,463.6 L1436.6,462.8 L1435.8,462.0 L1435.0,461.1 L1434.2,460.4 L1433.2,459.6 L1432.1,458.9 L1431.0,458.1 L1429.9,457.4 L1428.6,456.7 L1427.3,456.0 L1426.0,455.3 L1424.6,454.7 L1423.2,454.1 L1421.8,453.6 L1420.3,453.1 L1418.8,452.7 L1417.2,452.3 L1415.6,451.9 L1413.9,451.6 L1412.2,451.3 L1410.5,451.1 L1408.7,450.9 L1407.0,450.8 L1405.3,450.7 L1403.6,450.7 L1401.9,450.7 L1400.3,450.9 L1398.6,451.1 L1397.0,451.3 L1395.3,451.6 L1393.6,451.9 L1392.0,452.2 L1390.3,452.5 L1388.7,452.8 L1387.0,453.1 L1387.0,453.1 L1386.0,454.9 L1385.1,456.6 L1384.0,458.4 L1383.0,460.2 L1382.0,462.0 L1381.0,463.7 L1380.1,465.5 L1379.2,467.2 L1378.4,469.0 L1377.7,470.7 L1377.1,472.4 L1376.5,474.1 L1376.0,475.8 L1375.5,477.4 L1375.2,479.1 L1374.8,480.7 L1374.5,482.3 L1374.3,484.0 L1374.1,485.6 L1374.0,487.3 L1373.9,489.0 L1373.9,490.6 L1374.0,492.3 L1374.1,494.0 L1374.3,495.7 L1374.5,497.4 L1374.8,499.1 L1375.1,500.7 L1375.5,502.4 L1375.9,504.0 L1376.4,505.6 L1376.9,507.2 L1377.5,508.8 L1378.2,510.4 L1378.9,511.9 L1379.6,513.5 L1380.3,515.0 L1381.0,516.6 L1381.7,518.1 L1382.4,519.7Z" fill="#4373c5" stroke="#3862ac" stroke-width="0.7" stroke-linejoin="round"/>
<path d="M1370.3,526.2 L1369.6,524.4 L1368.9,522.5 L1368.2,520.7 L1367.5,518.8 L1366.8,517.0 L1366.1,515.1 L1365.5,513.2 L1364.9,511.4 L1364.4,509.6 L1363.9,507.7 L1363.5,505.8 L1363.1,504.0 L1362.8,502.1 L1362.5,500.2 L1362.3,498.3 L1362.1,496.5 L1362.0,494.6 L1361.9,492.8 L1361.9,491.0 L1362.0,489.2 L1362.2,487.4 L1362.4,485.7 L1362.7,484.0 L1363.1,482.3 L1363.5,480.6 L1364.0,479.0 L1364.5,477.3 L1365.2,475.7 L1365.8,474.1 L1366.6,472.5 L1367.4,470.9 L1368.3,469.3 L1369.3,467.8 L1370.3,466.2 L1371.4,464.7 L1372.5,463.2 L1373.8,461.7 L1375.0,460.3 L1376.3,459.0 L1377.7,457.7 L1379.1,456.5 L1380.7,455.3 L1382.2,454.2 L1383.9,453.1 L1385.6,452.0 L1387.3,451.0 L1389.1,450.1 L1390.9,449.2 L1387.0,453.1 L1386.0,454.9 L1385.1,456.6 L1384.0,458.4 L1383.0,460.2 L1382.0,462.0 L1381.0,463.7 L1380.1,465.5 L1379.2,467.2 L1378.4,469.0 L1377.7,470.7 L1377.1,472.4 L1376.5,474.1 L1376.0,475.8 L1375.5,477.4 L1375.2,479.1 L1374.8,480.7 L1374.5,482.3 L1374.3,484.0 L1374.1,485.6 L1374.0,487.3 L1373.9,489.0 L1373.9,490.6 L1374.0,492.3 L1374.1,494.0 L1374.3,495.7 L1374.5,497.4 L1374.8,499.1 L1375.1,500.7 L1375.5,502.4 L1375.9,504.0 L1376.4,505.6 L1376.9,507.2 L1377.5,508.8 L1378.2,510.4 L1378.9,511.9 L1379.6,513.5 L1380.3,515.0 L1381.0,516.6 L1381.7,518.1 L1382.4,519.7Z" fill="#3a69b9"/>
<path d="M1549.6,527.1 L1548.6,525.5 L1547.5,524.0 L1546.4,522.4 L1545.3,520.9 L1544.2,519.3 L1543.1,517.8 L1542.1,516.2 L1541.1,514.6 L1540.2,513.0 L1539.4,511.4 L1538.6,509.8 L1537.9,508.1 L1537.2,506.4 L1536.6,504.7 L1536.0,503.0 L1535.5,501.3 L1535.0,499.6 L1534.6,497.9 L1534.2,496.3 L1533.9,494.7 L1533.7,493.1 L1533.5,491.6 L1533.3,490.1 L1533.2,488.6 L1533.2,487.2 L1533.2,485.7 L1533.3,484.3 L1533.5,482.8 L1533.7,481.4 L1533.9,479.9 L1534.2,478.4 L1534.5,476.9 L1534.9,475.4 L1535.4,473.8 L1535.9,472.3 L1536.5,470.8 L1537.1,469.3 L1537.8,467.9 L1538.6,466.5 L1539.4,465.1 L1540.3,463.8 L1541.3,462.4 L1542.4,461.1 L1543.6,459.8 L1544.8,458.6 L1546.1,457.4 L1547.4,456.2 L1548.7,455.1 L1550.1,454.1 L1551.4,453.1 L1552.8,452.2 L1554.2,451.3 L1555.6,450.5 L1557.1,449.8 L1558.6,449.1 L1560.1,448.5 L1561.7,447.9 L1563.2,447.4 L1564.7,447.0 L1566.2,446.6 L1567.7,446.3 L1569.2,446.1 L1570.6,446.0 L1572.1,446.0 L1573.6,446.0 L1575.1,446.0 L1576.6,446.1 L1578.0,446.3 L1579.5,446.4 L1581.0,446.6 L1582.5,446.8 L1584.0,447.1 L1585.6,447.3 L1587.1,447.7 L1588.6,448.0 L1590.1,448.4 L1591.6,448.9 L1593.1,449.3 L1594.5,449.8 L1595.8,450.3 L1597.1,450.8 L1598.3,451.4 L1599.4,452.0 L1600.5,452.7 L1601.6,453.4 L1602.6,454.1 L1603.7,454.8 L1604.7,455.5 L1605.8,456.1 L1606.9,456.8 L1614.3,455.0 L1612.5,474.0 L1591.2,472.9 L1597.7,468.8 L1597.0,468.1 L1596.3,467.3 L1595.7,466.5 L1595.0,465.7 L1594.4,465.0 L1593.7,464.2 L1592.9,463.5 L1592.1,462.8 L1591.3,462.1 L1590.3,461.4 L1589.2,460.8 L1588.1,460.1 L1586.9,459.5 L1585.6,458.9 L1584.3,458.3 L1582.9,457.7 L1581.5,457.2 L1580.1,456.7 L1578.7,456.3 L1577.3,455.9 L1575.9,455.5 L1574.4,455.2 L1572.9,454.9 L1571.4,454.7 L1569.8,454.5 L1568.3,454.3 L1566.8,454.2 L1565.3,454.1 L1563.9,454.0 L1562.5,454.0 L1561.2,454.0 L1559.9,454.1 L1558.7,454.3 L1557.5,454.5 L1556.3,454.7 L1555.2,455.0 L1554.0,455.2 L1552.9,455.5 L1551.7,455.7 L1550.5,455.9 L1550.5,455.9 L1549.7,457.6 L1548.9,459.3 L1548.0,461.0 L1547.1,462.7 L1546.3,464.4 L1545.5,466.1 L1544.7,467.8 L1544.0,469.4 L1543.5,471.0 L1543.1,472.5 L1542.8,473.9 L1542.7,475.3 L1542.6,476.6 L1542.6,477.8 L1542.7,479.0 L1542.9,480.2 L1543.1,481.4 L1543.4,482.7 L1543.7,484.1 L1544.0,485.5 L1544.4,487.0 L1544.8,488.6 L1545.2,490.2 L1545.7,491.9 L1546.3,493.6 L1546.9,495.4 L1547.5,497.1 L1548.2,498.8 L1548.9,500.5 L1549.6,502.1 L1550.4,503.7 L1551.2,505.3 L1552.1,506.9 L1553.0,508.4 L1554.0,510.0 L1554.9,511.6 L1555.9,513.1 L1556.9,514.7 L1557.9,516.2 L1558.8,517.8Z" fill="#4373c5" stroke="#3862ac" stroke-width="0.7" stroke-linejoin="round"/>
<path d="M1549.6,527.1 L1548.6,525.5 L1547.5,524.0 L1546.4,522.4 L1545.3,520.9 L1544.2,519.3 L1543.1,517.8 L1542.1,516.2 L1541.1,514.6 L1540.2,513.0 L1539.4,511.4 L1538.6,509.8 L1537.9,508.1 L1537.2,506.4 L1536.6,504.7 L1536.0,503.0 L1535.5,501.3 L1535.0,499.6 L1534.6,497.9 L1534.2,496.3 L1533.9,494.7 L1533.7,493.1 L1533.5,491.6 L1533.3,490.1 L1533.2,488.6 L1533.2,487.2 L1533.2,485.7 L1533.3,484.3 L1533.5,482.8 L1533.7,481.4 L1533.9,479.9 L1534.2,478.4 L1534.5,476.9 L1534.9,475.4 L1535.4,473.8 L1535.9,472.3 L1536.5,470.8 L1537.1,469.3 L1537.8,467.9 L1538.6,466.5 L1539.4,465.1 L1540.3,463.8 L1541.3,462.4 L1542.4,461.1 L1543.6,459.8 L1544.8,458.6 L1546.1,457.4 L1547.4,456.2 L1548.7,455.1 L1550.1,454.1 L1551.4,453.1 L1552.8,452.2 L1554.2,451.3 L1550.5,455.9 L1549.7,457.6 L1548.9,459.3 L1548.0,461.0 L1547.1,462.7 L1546.3,464.4 L1545.5,466.1 L1544.7,467.8 L1544.0,469.4 L1543.5,471.0 L1543.1,472.5 L1542.8,473.9 L1542.7,475.3 L1542.6,476.6 L1542.6,477.8 L1542.7,479.0 L1542.9,480.2 L1543.1,481.4 L1543.4,482.7 L1543.7,484.1 L1544.0,485.5 L1544.4,487.0 L1544.8,488.6 L1545.2,490.2 L1545.7,491.9 L1546.3,493.6 L1546.9,495.4 L1547.5,497.1 L1548.2,498.8 L1548.9,500.5 L1549.6,502.1 L1550.4,503.7 L1551.2,505.3 L1552.1,506.9 L1553.0,508.4 L1554.0,510.0 L1554.9,511.6 L1555.9,513.1 L1556.9,514.7 L1557.9,516.2 L1558.8,517.8Z" fill="#3a69b9"/>
<text x="834" y="51.5" text-anchor="start" font-family="Liberation Serif, serif" font-size="23.3" font-weight="bold" fill="#1a1a1a">Products</text>
<text x="989.3" y="64.8" text-anchor="start" font-family="Liberation Serif, serif" font-size="23" font-weight="bold" fill="#1a1a1a">O<tspan dy="4.4" font-size="15">2</tspan><tspan dy="-4.4" dx="2" font-size="19">·</tspan><tspan dy="-9.6" dx="1.4" font-size="14" font-weight="normal">−</tspan></text>
<text x="1074.3" y="61.3" text-anchor="start" font-family="Liberation Serif, serif" font-size="23" font-weight="bold" fill="#1a1a1a">O<tspan dy="4.4" font-size="15">2</tspan><tspan dy="-4.4" dx="2" font-size="19">·</tspan><tspan dy="-9.6" dx="1.4" font-size="14" font-weight="normal">−</tspan></text>
<text x="931.6" y="95.1" text-anchor="start" font-family="Liberation Serif, serif" font-size="23" font-weight="bold" fill="#1a1a1a">O<tspan dy="4.4" font-size="15">2</tspan><tspan dy="-4.4" dx="2" font-size="19">·</tspan><tspan dy="-9.6" dx="1.4" font-size="14" font-weight="normal">−</tspan></text>
<text x="935.4" y="141" text-anchor="start" font-family="Liberation Serif, serif" font-size="22.8" font-weight="bold" fill="#1a1a1a">NOR</text>
<text x="814.8" y="477.5" text-anchor="start" font-family="Liberation Serif, serif" font-size="22.8" font-weight="bold" fill="#1a1a1a">NOR</text>
<text x="880" y="490" text-anchor="start" font-family="Liberation Serif, serif" font-size="20.4" font-weight="bold" fill="#1a1a1a">Products</text>
<text x="1027.8" y="393.9" text-anchor="start" font-family="Liberation Serif, serif" font-size="22.8" font-weight="bold" fill="#1a1a1a">OH<tspan dy="-9.2" dx="4" font-size="14" font-weight="normal">−</tspan></text>
<text x="991" y="430.5" text-anchor="start" font-family="Liberation Serif, serif" font-size="22.8" font-weight="bold" fill="#1a1a1a"><tspan font-size="18">·</tspan><tspan dx="1.5">OH</tspan></text>
<text x="1028.5" y="515.5" text-anchor="start" font-family="Liberation Serif, serif" font-size="22.8" font-weight="bold" fill="#1a1a1a">NOR</text>
<text x="1185" y="509" text-anchor="start" font-family="Liberation Serif, serif" font-size="22.8" font-weight="bold" fill="#1a1a1a">NOR</text>
<text x="1273.3" y="514" text-anchor="start" font-family="Liberation Serif, serif" font-size="20.4" font-weight="bold" fill="#1a1a1a">Products</text>
<text x="1375.3" y="552" text-anchor="start" font-family="Liberation Serif, serif" font-size="22.6" font-weight="bold" fill="#1a1a1a">H<tspan dy="4.4" font-size="15">2</tspan><tspan dy="-4.4">O/ </tspan>OH<tspan dy="-9.2" dx="0.6" font-size="14" font-weight="normal">−</tspan></text>
<text x="1473.6" y="472" text-anchor="start" font-family="Liberation Serif, serif" font-size="22.8" font-weight="bold" fill="#1a1a1a"><tspan font-size="18">·</tspan><tspan dx="1.5">OH</tspan></text>
<text x="1525" y="551" text-anchor="start" font-family="Liberation Serif, serif" font-size="22.8" font-weight="bold" fill="#1a1a1a">NOR</text>
<text x="1591.5" y="506.5" text-anchor="start" font-family="Liberation Serif, serif" font-size="20.4" font-weight="bold" fill="#1a1a1a">Products</text>
<text x="1489.5" y="101.5" text-anchor="start" font-family="Liberation Serif, serif" font-size="20" fill="#1a1a1a">pH = 7</text>
<text x="1394" y="177" text-anchor="start" font-family="Liberation Serif, serif" font-size="27.5" fill="#1a1a1a">O<tspan dy="6" font-size="18">2</tspan><tspan dy="-6">/O</tspan><tspan dy="6" font-size="18">2</tspan><tspan dy="-6">·</tspan><tspan dy="-9" font-size="19">−</tspan><tspan dy="9"> (−0.33 V vs. NHE)</tspan></text>
<text x="1447.5" y="351.5" text-anchor="start" font-family="Liberation Serif, serif" font-size="27.7" fill="#1a1a1a">·OH/OH<tspan dy="-10" font-size="19">−</tspan><tspan dx="2.5" dy="10">(+2.40 V vs. NHE)</tspan></text>
<text x="1447" y="416" text-anchor="start" font-family="Liberation Serif, serif" font-size="27.5" fill="#1a1a1a">H<tspan dy="6" font-size="18">2</tspan><tspan dy="-6">O/·OH (+2.72 V vs. NHE)</tspan></text>
<line x1="814" y1="191.7" x2="1583" y2="191.7" stroke="#353535" stroke-width="1.25" stroke-dasharray="3.8,2.3"/>
<line x1="814" y1="368.2" x2="1583" y2="368.2" stroke="#353535" stroke-width="1.25" stroke-dasharray="3.8,2.3"/>
<line x1="814" y1="387.0" x2="1583" y2="387.0" stroke="#353535" stroke-width="1.25" stroke-dasharray="3.8,2.3"/>
</g>
</g>
</svg></body></html>
